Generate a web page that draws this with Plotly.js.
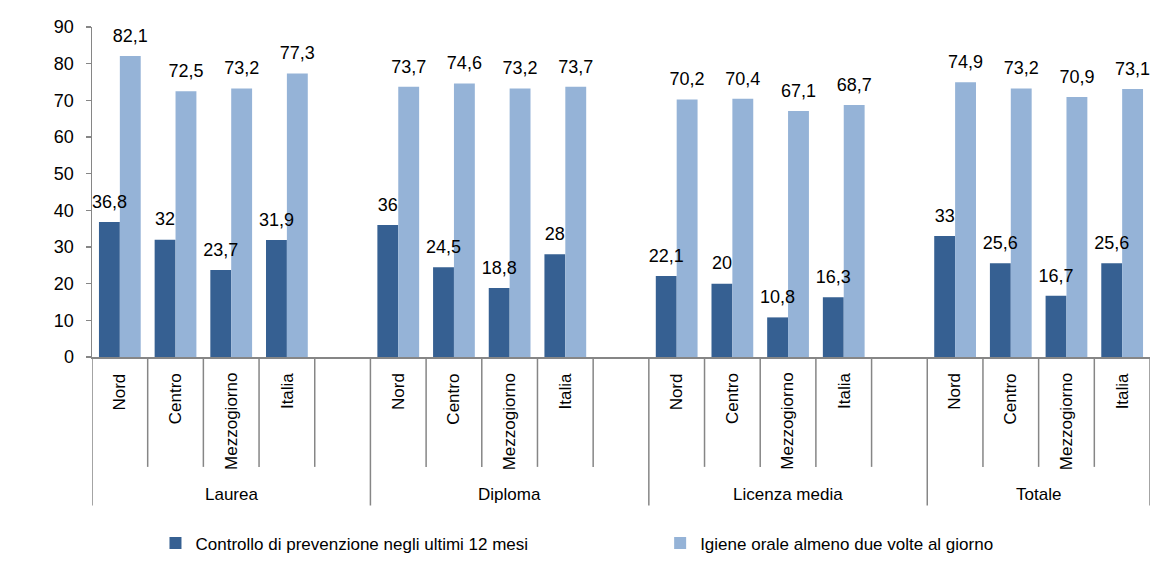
<!DOCTYPE html>
<html><head><meta charset="utf-8">
<script src="https://cdn.plot.ly/plotly-3.0.1.min.js"></script>
<style>html,body{margin:0;padding:0;background:#fff}#chart{width:1160px;height:588px}</style>
</head><body><div id="chart"></div>
<script>
const groups = ['Laurea', 'Diploma', 'Licenza media', 'Totale'];
const regions = ['Nord', 'Centro', 'Mezzogiorno', 'Italia'];
const seriesNames = ['Controllo di prevenzione negli ultimi 12 mesi', 'Igiene orale almeno due volte al giorno'];
const controllo = [36.8, 32, 23.7, 31.9, 36, 24.5, 18.8, 28, 22.1, 20, 10.8, 16.3, 33, 25.6, 16.7, 25.6];
const igiene = [82.1, 72.5, 73.2, 77.3, 73.7, 74.6, 73.2, 73.7, 70.2, 70.4, 67.1, 68.7, 74.9, 73.2, 70.9, 73.1];
const yTickValues = [0, 10, 20, 30, 40, 50, 60, 70, 80, 90];

const FONT = "'Liberation Sans Narrow','Arial Narrow','Liberation Sans',Arial,sans-serif";
const GRAY = '#868686';
const COLORS = ['#366092', '#95B3D7'];
const SLOTS = regions.length + 1; // each group plus one blank slot

// slot index for each bar
const xs = [];
groups.forEach((g, gi) => regions.forEach((r, ri) => xs.push(gi * SLOTS + ri)));
const lastSlot = (groups.length - 1) * SLOTS + regions.length - 1;
const fmt = v => String(v).replace('.', ',');
const seriesValues = [controllo, igiene];

const traces = [];
seriesValues.forEach((vals, i) => {
  traces.push({type: 'bar', name: seriesNames[i], x: xs, y: vals, hoverinfo: 'skip',
    marker: {color: COLORS[i], line: {width: 0}}, legend: i === 0 ? 'legend' : 'legend2'});
});
// value labels drawn above all bars (grouped like the bars)
seriesValues.forEach((vals, i) => {
  traces.push({type: 'scatter', mode: 'markers+text', x: xs, y: vals, text: vals.map(fmt),
    textposition: 'top center', cliponaxis: false, showlegend: false, hoverinfo: 'skip',
    marker: {size: 14, color: 'rgba(0,0,0,0)'},
    textfont: {family: FONT, size: 18, color: '#000'}});
});

const shapes = [];
const annotations = [];
const lineStyle = {color: GRAY, width: 1.5};
groups.forEach((g, gi) => {
  const start = gi * SLOTS;
  const n = gi < groups.length - 1 ? SLOTS : regions.length;
  shapes.push({type: 'line', xref: 'x', yref: 'paper', x0: start - 0.5, x1: start - 0.5, y0: 0, y1: -0.45, line: lineStyle});
  for (let k = 1; k < n; k++) {
    shapes.push({type: 'line', xref: 'x', yref: 'paper', x0: start + k - 0.5, x1: start + k - 0.5, y0: 0, y1: -0.333, line: lineStyle});
  }
  regions.forEach((r, ri) => {
    annotations.push({xref: 'x', yref: 'paper', x: start + ri, y: -0.043, text: r, textangle: -90,
      showarrow: false, xanchor: 'center', yanchor: 'top', font: {family: FONT, size: 17, color: '#000'}});
  });
  annotations.push({xref: 'x', yref: 'paper', x: start + (n - 1) / 2, y: -0.418, text: g,
    showarrow: false, xanchor: 'center', yanchor: 'middle', font: {family: FONT, size: 17, color: '#000'}});
});
shapes.push({type: 'line', xref: 'x', yref: 'paper', x0: lastSlot + 0.5, x1: lastSlot + 0.5, y0: 0, y1: -0.45, line: lineStyle});

const layout = {
  width: 1160, height: 588,
  margin: {l: 92, r: 10, t: 27, b: 231},
  paper_bgcolor: '#fff', plot_bgcolor: '#fff',
  font: {family: FONT, size: 17, color: '#000'},
  barmode: 'group', bargap: 0.25, bargroupgap: 0,
  scattermode: 'group', scattergap: 0.25,
  xaxis: {range: [-0.5, lastSlot + 0.5], showticklabels: false, ticks: '', showgrid: false, zeroline: false,
    showline: true, linecolor: GRAY, linewidth: 1.5, fixedrange: true},
  yaxis: {range: [0, 90], tickmode: 'array', tickvals: yTickValues, ticktext: yTickValues.map(String),
    ticks: 'outside', ticklen: 5, tickwidth: 1.5, tickcolor: GRAY, showline: true, linecolor: GRAY, linewidth: 1.5,
    showgrid: false, zeroline: false, tickfont: {family: FONT, size: 18, color: '#000'}, ticklabelstandoff: 8, fixedrange: true},
  showlegend: true,
  legend: {orientation: 'h', x: 0.06, xanchor: 'left', y: -0.565, yanchor: 'middle', font: {family: FONT, size: 17, color: '#000'}, bgcolor: 'rgba(0,0,0,0)'},
  legend2: {orientation: 'h', x: 0.537, xanchor: 'left', y: -0.565, yanchor: 'middle', font: {family: FONT, size: 17, color: '#000'}, bgcolor: 'rgba(0,0,0,0)'},
  shapes: shapes,
  annotations: annotations
};

Plotly.newPlot('chart', traces, layout, {displayModeBar: false, staticPlot: true});
</script>
</body></html>
